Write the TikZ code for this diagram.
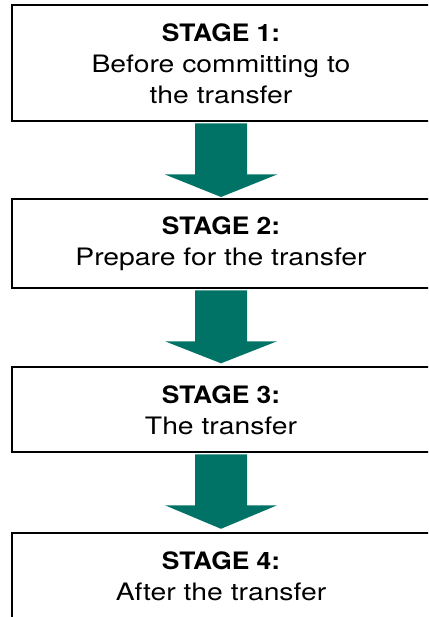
\documentclass[tikz,border=0pt]{standalone}
\usepackage{fontspec}
\setmainfont{TeX Gyre Heros}[FakeStretch=1.18]
\newfontfamily\headfont{TeX Gyre Heros}[FakeStretch=1.1]
\usetikzlibrary{calc}
\definecolor{tealarrow}{RGB}{0,115,102}
\newcommand{\stagehead}[1]{{\headfont\bfseries #1}}
\begin{document}
\begin{tikzpicture}[x=1pt,y=-1pt,
  stagebox/.style={draw=black, line width=2pt, fill=white, minimum width=419pt,
    align=center, inner sep=0pt, font=\fontsize{24}{31}\selectfont},
  bigarrow/.style={fill=tealarrow}]
\useasboundingbox (0,0) rectangle (428,617);
\clip (0,0) rectangle (428,617);
\node[stagebox, minimum height=116pt] (b1) at (221,63.5)
  {\stagehead{STAGE 1:}\\Before committing to\\the transfer};
\node[stagebox, minimum height=89pt] (b2) at (221,243.8)
  {\stagehead{STAGE 2:}\\Prepare for the transfer};
\node[stagebox, minimum height=85pt] (b3) at (221,409.8)
  {\stagehead{STAGE 3:}\\The transfer};
\node[stagebox, minimum height=86pt] (b4) at (221,576.3)
  {\stagehead{STAGE 4:}\\After the transfer};
\foreach \s/\tip in {b1/74.5, b2/74, b3/75.5}{
  \fill[bigarrow] ($(\s.south)+(-26,1)$) -- ($(\s.south)+(26,1)$)
    -- ($(\s.south)+(26,52)$) -- ($(\s.south)+(56,52)$)
    -- ($(\s.south)+(0,\tip)$) -- ($(\s.south)+(-56,52)$)
    -- ($(\s.south)+(-26,52)$) -- cycle;
}
\end{tikzpicture}
\end{document}
